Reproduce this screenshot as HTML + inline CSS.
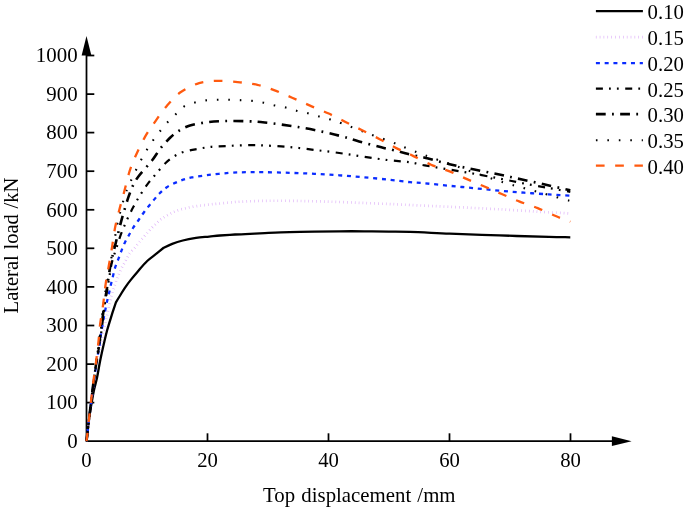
<!DOCTYPE html>
<html><head><meta charset="utf-8"><title>chart</title>
<style>html,body{margin:0;padding:0;background:#fff}svg{display:block;will-change:transform}text{font-family:"Liberation Serif",serif;font-size:20.8px;fill:#000}</style></head>
<body>
<svg width="685" height="508" viewBox="0 0 685 508">
<rect width="685" height="508" fill="#fff"/>
<g stroke="#000" stroke-width="1.75" fill="none">
<path d="M86.5 50V441.2H615"/>
<path d="M86.5 402.6H94.3"/>
<path d="M86.5 364.1H94.3"/>
<path d="M86.5 325.5H94.3"/>
<path d="M86.5 286.9H94.3"/>
<path d="M86.5 248.3H94.3"/>
<path d="M86.5 209.8H94.3"/>
<path d="M86.5 171.2H94.3"/>
<path d="M86.5 132.6H94.3"/>
<path d="M86.5 94.1H94.3"/>
<path d="M86.5 55.5H94.3"/>
<path d="M207.5 441.2V433.3"/>
<path d="M328.5 441.2V433.3"/>
<path d="M449.5 441.2V433.3"/>
<path d="M570.5 441.2V433.3"/>
</g>
<path d="M86.5 36L91.4 55.6H81.6Z" fill="#000"/>
<path d="M631.6 441.2L611.9 446.1V436.3Z" fill="#000"/>
<text transform="translate(77.6 448.0) scale(0.962 1)" text-anchor="end" style="font-size:21.7px">0</text>
<text transform="translate(77.6 409.4) scale(0.962 1)" text-anchor="end" style="font-size:21.7px">100</text>
<text transform="translate(77.6 370.9) scale(0.962 1)" text-anchor="end" style="font-size:21.7px">200</text>
<text transform="translate(77.6 332.3) scale(0.962 1)" text-anchor="end" style="font-size:21.7px">300</text>
<text transform="translate(77.6 293.7) scale(0.962 1)" text-anchor="end" style="font-size:21.7px">400</text>
<text transform="translate(77.6 255.2) scale(0.962 1)" text-anchor="end" style="font-size:21.7px">500</text>
<text transform="translate(77.6 216.6) scale(0.962 1)" text-anchor="end" style="font-size:21.7px">600</text>
<text transform="translate(77.6 178.0) scale(0.962 1)" text-anchor="end" style="font-size:21.7px">700</text>
<text transform="translate(77.6 139.4) scale(0.962 1)" text-anchor="end" style="font-size:21.7px">800</text>
<text transform="translate(77.6 100.9) scale(0.962 1)" text-anchor="end" style="font-size:21.7px">900</text>
<text transform="translate(77.6 62.3) scale(0.962 1)" text-anchor="end" style="font-size:21.7px">1000</text>
<text transform="translate(86.5 466.6) scale(0.955 1)" text-anchor="middle" style="font-size:21.7px">0</text>
<text transform="translate(207.5 466.6) scale(0.955 1)" text-anchor="middle" style="font-size:21.7px">20</text>
<text transform="translate(328.5 466.6) scale(0.955 1)" text-anchor="middle" style="font-size:21.7px">40</text>
<text transform="translate(449.5 466.6) scale(0.955 1)" text-anchor="middle" style="font-size:21.7px">60</text>
<text transform="translate(570.5 466.6) scale(0.955 1)" text-anchor="middle" style="font-size:21.7px">80</text>
<text transform="translate(263.1 501.5) scale(0.958 1)" style="font-size:21.75px;word-spacing:1px">Top displacement /mm</text>
<text transform="translate(17.7 313.4) rotate(-90) scale(0.946 1)" style="font-size:21.75px;word-spacing:0.5px">Lateral load /kN</text>
<g fill="none">
<path d="M86.5 441.2C86.8 439.0 87.5 432.4 88.0 428.0C88.5 423.6 89.0 418.9 89.6 414.9C90.2 410.9 90.7 408.0 91.4 404.0C92.1 400.0 92.9 395.4 93.8 391.0C94.7 386.6 95.9 383.1 97.0 377.8C98.1 372.5 99.3 364.7 100.5 359.0C101.7 353.3 102.8 348.4 103.9 343.6C105.0 338.8 105.8 335.1 107.2 330.0C108.6 324.9 111.0 317.5 112.4 312.9C113.9 308.3 115.3 304.1 115.9 302.4C116.6 301.2 118.6 297.9 120.1 295.5C121.6 293.1 123.1 290.4 124.9 287.8C126.7 285.2 128.7 282.5 130.8 279.9C132.9 277.2 134.7 275.0 137.4 271.9C140.1 268.8 144.0 264.0 147.2 261.0C150.4 258.0 153.7 255.9 156.4 253.7C159.1 251.5 162.4 248.8 163.6 247.8C165.0 247.1 169.0 245.0 172.2 243.8C175.4 242.6 178.8 241.5 182.8 240.5C186.8 239.5 191.6 238.6 196.0 237.9C200.4 237.2 205.2 237.0 209.2 236.6C213.2 236.2 215.7 235.8 220.0 235.5C224.3 235.2 230.0 234.8 235.0 234.5C240.0 234.2 245.0 234.0 250.0 233.8C255.0 233.6 258.2 233.4 264.8 233.1C271.4 232.8 281.3 232.3 289.6 232.1C297.9 231.8 306.1 231.7 314.4 231.6C322.7 231.5 331.0 231.4 339.3 231.3C347.6 231.2 355.8 231.2 364.1 231.3C372.4 231.4 381.2 231.5 388.9 231.6C396.5 231.7 399.9 231.6 410.0 231.9C420.1 232.2 434.7 233.0 449.6 233.6C464.5 234.2 482.8 234.8 499.3 235.4C515.9 236.0 537.1 236.6 548.9 236.9C560.7 237.2 566.7 237.2 570.3 237.3" stroke="#000" stroke-width="2.3" stroke-dashoffset="0"/>
<path d="M86.5 441.2C87.5 432.7 91.0 403.4 92.8 390.0C94.6 376.6 95.7 368.1 97.1 360.7C98.5 353.2 99.9 350.2 101.0 345.3C102.1 340.4 102.8 335.7 103.7 331.3C104.6 326.9 105.4 323.1 106.3 319.0C107.2 314.9 108.0 310.7 108.9 306.8C109.8 302.9 110.7 298.6 111.5 295.7C112.3 292.8 112.7 291.5 113.5 289.1C114.3 286.7 115.2 283.6 116.1 281.2C117.0 278.8 117.7 276.9 118.7 274.6C119.7 272.3 120.8 269.7 122.0 267.3C123.2 264.9 124.7 262.6 126.0 260.2C127.3 257.8 128.4 255.2 130.0 253.0C131.6 250.8 133.5 249.2 135.3 247.1C137.1 245.0 138.8 242.6 140.6 240.5C142.3 238.4 144.1 236.6 145.8 234.6C147.6 232.6 149.3 230.5 151.1 228.6C152.9 226.7 154.6 225.1 156.4 223.4C158.2 221.8 159.7 220.1 161.7 218.7C163.7 217.3 166.1 216.0 168.3 214.8C170.5 213.6 172.5 212.5 174.9 211.5C177.3 210.5 180.0 209.7 182.8 208.9C185.7 208.1 188.9 207.5 192.0 206.9C195.1 206.3 198.3 206.0 201.2 205.6C204.1 205.2 206.5 204.8 209.2 204.5C211.8 204.2 213.8 204.1 217.1 203.8C220.4 203.5 225.1 202.9 228.9 202.6C232.7 202.2 234.0 202.0 240.0 201.7C246.0 201.4 256.5 201.0 264.8 200.8C273.1 200.7 281.3 200.7 289.6 200.8C297.9 200.9 306.1 201.1 314.4 201.3C322.7 201.5 331.0 201.7 339.3 202.0C347.6 202.3 355.8 202.7 364.1 203.0C372.4 203.3 381.2 203.7 388.9 204.0C396.5 204.3 399.9 204.5 410.0 205.0C420.1 205.5 434.7 206.1 449.6 206.8C464.5 207.5 482.8 208.4 499.3 209.3C515.9 210.2 537.1 211.6 548.9 212.3C560.7 213.0 566.7 213.3 570.3 213.5" stroke="#d7a2f6" stroke-width="2.7" stroke-dasharray="0.55 3.32" stroke-dashoffset="0"/>
<path d="M86.5 441.2C87.5 432.7 91.0 403.4 92.7 390.0C94.4 376.6 95.8 368.3 96.9 360.7C98.1 353.1 99.0 348.7 99.6 344.5C100.2 340.3 100.3 338.6 100.7 335.7C101.1 332.8 101.7 329.8 102.2 326.9C102.7 324.0 103.2 321.1 103.7 318.2C104.2 315.3 104.8 312.4 105.4 309.4C106.0 306.4 106.7 303.1 107.3 300.3C107.9 297.5 108.6 295.1 109.2 292.4C109.8 289.6 110.4 286.7 111.1 283.8C111.8 280.9 112.5 278.1 113.2 275.2C113.9 272.3 114.5 269.4 115.4 266.7C116.3 263.9 117.5 261.3 118.5 258.7C119.5 256.1 120.4 253.4 121.4 250.8C122.4 248.2 123.5 245.4 124.7 242.9C125.9 240.4 127.2 238.2 128.6 235.7C130.0 233.2 131.4 230.5 133.0 228.0C134.6 225.5 136.4 223.2 138.3 220.5C140.2 217.8 142.2 214.6 144.5 211.5C146.8 208.4 149.5 205.2 152.0 202.2C154.5 199.2 156.9 196.0 159.4 193.5C161.9 191.0 163.5 189.4 166.8 187.3C170.1 185.2 175.2 182.8 179.3 181.1C183.5 179.4 186.8 178.4 191.7 177.4C196.6 176.4 202.8 175.7 209.0 174.9C215.2 174.2 222.7 173.4 228.9 172.9C235.1 172.4 240.3 172.3 246.3 172.2C252.3 172.1 257.6 172.1 264.8 172.2C272.0 172.3 281.3 172.5 289.6 172.8C297.9 173.1 306.1 173.4 314.4 173.8C322.7 174.2 331.0 174.7 339.3 175.3C347.6 175.9 355.8 176.6 364.1 177.3C372.4 178.0 381.2 178.9 388.9 179.7C396.5 180.5 404.0 181.6 410.0 182.2C416.0 182.8 418.2 182.7 424.8 183.3C431.4 183.9 441.3 185.0 449.6 185.8C457.9 186.6 466.1 187.4 474.4 188.2C482.7 189.0 491.0 189.9 499.3 190.7C507.6 191.4 515.8 192.1 524.1 192.7C532.4 193.3 541.2 193.9 548.9 194.4C556.6 194.9 566.7 195.5 570.3 195.7" stroke="#0a2cff" stroke-width="2.3" stroke-dasharray="4 4.764" stroke-dashoffset="0.35"/>
<path d="M86.5 441.2C87.5 432.7 90.9 403.4 92.6 390.0C94.3 376.6 95.5 368.8 96.7 360.7C97.9 352.6 99.1 347.5 100.0 341.4C100.9 335.3 101.5 330.6 102.3 324.3C103.1 318.0 104.1 309.4 105.0 303.3C105.9 297.2 106.7 292.9 107.5 288.0C108.3 283.1 109.0 278.4 109.8 274.1C110.5 269.8 111.0 266.1 112.0 262.0C113.0 257.9 114.5 253.9 116.0 249.3C117.5 244.7 119.1 239.4 120.9 234.4C122.8 229.4 125.0 224.2 127.1 219.6C129.2 215.0 131.2 211.0 133.3 207.1C135.4 203.2 137.3 199.7 139.6 196.0C141.9 192.3 144.5 188.2 147.0 184.8C149.5 181.4 151.3 179.4 154.4 175.8C157.5 172.2 162.1 166.4 165.6 163.0C169.1 159.6 172.4 157.4 175.5 155.5C178.6 153.6 180.9 152.8 184.2 151.8C187.5 150.8 190.8 150.1 195.4 149.3C200.0 148.5 205.9 147.4 211.5 146.8C217.1 146.2 222.7 146.2 228.9 145.9C235.1 145.6 242.7 145.3 248.7 145.2C254.7 145.1 258.0 145.2 264.8 145.5C271.6 145.8 281.3 146.4 289.6 147.1C297.9 147.8 306.1 148.9 314.4 149.9C322.7 150.9 331.0 151.8 339.3 153.0C347.6 154.2 355.8 155.6 364.1 156.8C372.4 158.0 381.2 159.3 388.9 160.2C396.5 161.1 404.0 161.4 410.0 162.3C416.0 163.2 418.2 164.2 424.8 165.4C431.4 166.6 441.3 168.2 449.6 169.6C457.9 171.0 466.1 172.3 474.4 173.8C482.7 175.3 491.0 176.9 499.3 178.5C507.6 180.1 515.8 181.9 524.1 183.5C532.4 185.1 541.2 186.6 548.9 188.0C556.6 189.4 566.7 191.2 570.3 191.8" stroke="#000" stroke-width="2.2" stroke-dasharray="7 6.1 1.8 6.1 1.8 6.517" stroke-dashoffset="-0.15"/>
<path d="M86.5 441.2C87.5 432.7 90.8 403.4 92.5 390.0C94.2 376.6 95.4 368.8 96.6 360.7C97.8 352.6 98.6 347.5 99.5 341.4C100.4 335.3 101.0 330.6 101.8 324.3C102.6 318.0 103.6 309.4 104.5 303.3C105.4 297.2 106.1 293.7 107.0 288.0C107.9 282.3 108.9 274.4 109.8 269.2C110.7 264.0 111.3 261.4 112.3 256.8C113.3 252.2 114.8 246.9 116.0 241.9C117.2 236.9 118.5 231.8 119.7 227.0C120.9 222.2 122.0 218.3 123.4 213.3C124.9 208.3 126.8 201.9 128.4 197.2C130.1 192.4 131.6 188.3 133.3 184.8C135.0 181.3 135.7 180.1 138.8 176.0C141.9 171.9 148.4 165.1 152.0 160.5C155.6 155.9 157.5 152.1 160.6 148.2C163.7 144.3 167.7 140.0 170.6 137.2C173.5 134.4 174.9 133.3 178.0 131.4C181.1 129.5 184.0 127.4 189.2 125.8C194.4 124.2 202.4 122.8 209.0 122.0C215.6 121.2 222.3 121.1 228.9 121.0C235.5 120.9 242.7 121.0 248.7 121.3C254.7 121.5 258.0 121.8 264.8 122.5C271.6 123.2 281.3 124.5 289.6 125.8C297.9 127.0 306.1 128.3 314.4 130.0C322.7 131.7 331.9 133.8 339.3 135.7C346.8 137.6 352.1 139.5 359.1 141.4C366.1 143.3 374.6 145.6 381.4 147.3C388.2 149.0 395.2 150.6 400.0 151.8C404.8 153.0 405.9 153.5 410.0 154.5C414.1 155.5 418.2 156.1 424.8 157.7C431.4 159.3 441.3 162.2 449.6 164.2C457.9 166.2 466.1 167.9 474.4 169.6C482.7 171.3 491.4 172.9 499.3 174.6C507.2 176.2 514.1 177.8 522.0 179.5C529.9 181.2 538.9 183.2 546.9 185.0C554.9 186.8 566.4 189.4 570.3 190.3" stroke="#000" stroke-width="2.6" stroke-dasharray="9.8 6.327 1.8 6.326" stroke-dashoffset="-0.52"/>
<path d="M86.5 441.2C87.5 432.7 90.8 403.4 92.4 390.0C94.1 376.6 95.3 368.8 96.4 360.7C97.5 352.6 98.2 347.5 99.0 341.4C99.8 335.3 100.2 330.6 101.0 324.3C101.8 318.0 102.9 309.9 103.8 303.3C104.7 296.7 105.5 290.8 106.5 284.5C107.5 278.2 108.8 271.7 110.0 265.3C111.2 258.9 112.3 253.0 113.5 246.2C114.7 239.4 116.0 230.6 117.2 224.5C118.4 218.4 119.5 215.0 120.9 209.6C122.4 204.2 124.2 197.1 125.9 192.3C127.6 187.5 128.4 186.1 130.9 180.8C133.4 175.5 137.3 167.0 140.8 160.5C144.3 154.0 147.9 147.9 152.0 141.9C156.1 135.9 161.9 128.8 165.6 124.5C169.3 120.2 171.4 118.7 174.3 115.8C177.2 112.9 179.7 109.3 183.0 107.1C186.3 104.9 190.3 103.8 194.1 102.7C197.9 101.6 201.9 100.9 205.8 100.4C209.7 99.9 213.8 99.8 217.7 99.7C221.5 99.6 225.0 99.6 228.9 99.7C232.8 99.8 237.4 100.0 241.3 100.2C245.2 100.4 248.7 100.5 252.4 100.9C256.1 101.3 259.9 102.0 263.6 102.7C267.3 103.5 271.0 104.6 274.7 105.4C278.4 106.2 282.2 106.7 285.9 107.6C289.6 108.5 293.4 110.0 297.1 110.9C300.8 111.9 304.5 112.3 308.2 113.3C311.9 114.2 315.7 115.5 319.4 116.6C323.1 117.6 326.9 118.5 330.6 119.6C334.3 120.7 336.1 121.2 341.7 123.3C347.3 125.4 358.7 129.9 364.1 132.0C369.5 134.1 369.4 134.0 374.0 135.7C378.6 137.3 386.2 139.9 391.4 141.9C396.6 143.9 399.4 145.3 405.0 147.5C410.6 149.7 417.5 152.6 425.0 155.3C432.5 158.1 441.7 161.1 450.0 164.0C458.3 166.9 466.2 169.8 475.0 172.8C483.8 175.8 494.4 179.6 502.8 182.2C511.2 184.8 518.0 186.4 525.5 188.5C533.0 190.6 540.2 192.5 547.6 194.6C555.0 196.7 565.9 199.8 569.6 200.8" stroke="#000" stroke-width="2.1" stroke-dasharray="1.6 9.859" stroke-dashoffset="-1.23"/>
<path d="M86.5 441.2C87.5 432.7 90.7 403.4 92.3 390.0C93.9 376.6 95.2 368.8 96.2 360.7C97.2 352.6 97.8 347.5 98.5 341.4C99.2 335.3 99.3 330.6 100.1 324.3C100.9 318.0 102.4 309.9 103.3 303.3C104.2 296.7 104.7 290.8 105.6 284.5C106.5 278.2 107.8 271.7 108.9 265.3C110.0 258.9 111.2 252.6 112.2 246.2C113.2 239.8 114.0 233.3 115.2 227.0C116.5 220.7 118.1 214.6 119.7 208.4C121.3 202.2 123.1 196.0 124.7 189.8C126.3 183.6 127.8 176.9 129.6 171.2C131.4 165.5 133.2 161.2 135.8 155.5C138.4 149.8 141.7 142.7 145.0 136.9C148.3 131.1 152.1 126.0 155.7 120.8C159.3 115.6 162.7 110.7 166.8 105.9C170.9 101.2 175.1 96.1 180.5 92.3C185.9 88.5 192.7 85.0 199.1 83.1C205.5 81.2 212.2 80.9 219.0 80.8C225.8 80.7 233.6 81.6 240.0 82.3C246.4 83.0 251.6 83.5 257.4 84.8C263.2 86.1 268.9 88.1 274.7 90.3C280.5 92.5 286.3 95.2 292.1 97.7C297.9 100.2 303.5 102.8 309.5 105.4C315.5 108.0 322.1 110.5 328.1 113.3C334.1 116.1 339.9 119.2 345.5 122.0C351.1 124.8 355.8 127.1 361.6 130.0C367.4 132.9 374.4 136.4 380.2 139.4C386.0 142.4 391.3 145.6 396.3 148.1C401.3 150.6 404.2 151.5 410.0 154.3C415.8 157.1 424.4 161.8 431.0 164.7C437.6 167.5 443.6 169.0 449.6 171.4C455.6 173.8 461.2 176.6 467.0 179.1C472.8 181.6 478.6 184.0 484.4 186.5C490.2 189.0 495.9 191.5 501.7 194.0C507.5 196.5 513.1 199.1 519.1 201.4C525.1 203.8 531.5 205.6 537.7 208.1C543.9 210.6 550.9 214.0 556.3 216.3C561.7 218.6 568.0 220.8 570.3 221.7" stroke="#ff5a0f" stroke-width="2.3" stroke-dasharray="8.7 10.562" stroke-dashoffset="0.1"/>
</g>
<g fill="none">
<path d="M595.9 11.2H642.9" stroke="#000" stroke-width="2.3"/>
<path d="M595.9 37.2H642.9" stroke="#d7a2f6" stroke-width="2.7" stroke-dasharray="0.55 3.32"/>
<path d="M595.9 63.1H642.9" stroke="#0a2cff" stroke-width="2.3" stroke-dasharray="4 4.764"/>
<path d="M595.9 88.6H642.9" stroke="#000" stroke-width="2.2" stroke-dasharray="7 6.1 1.8 6.1 1.8 6.517"/>
<path d="M595.9 114.1H642.9" stroke="#000" stroke-width="2.6" stroke-dasharray="9.8 6.327 1.8 6.326"/>
<path d="M595.9 140.3H642.9" stroke="#000" stroke-width="2.1" stroke-dasharray="1.6 9.859"/>
<path d="M595.9 165.6H642.9" stroke="#ff5a0f" stroke-width="2.3" stroke-dasharray="8.7 10.562"/>
</g>
<text transform="translate(647.6 19.3) scale(0.953 1)" style="font-size:21.75px">0.10</text>
<text transform="translate(647.6 45.3) scale(0.953 1)" style="font-size:21.75px">0.15</text>
<text transform="translate(647.6 71.2) scale(0.953 1)" style="font-size:21.75px">0.20</text>
<text transform="translate(647.6 96.7) scale(0.953 1)" style="font-size:21.75px">0.25</text>
<text transform="translate(647.6 122.2) scale(0.953 1)" style="font-size:21.75px">0.30</text>
<text transform="translate(647.6 148.4) scale(0.953 1)" style="font-size:21.75px">0.35</text>
<text transform="translate(647.6 173.7) scale(0.953 1)" style="font-size:21.75px">0.40</text>
</svg>
</body></html>
